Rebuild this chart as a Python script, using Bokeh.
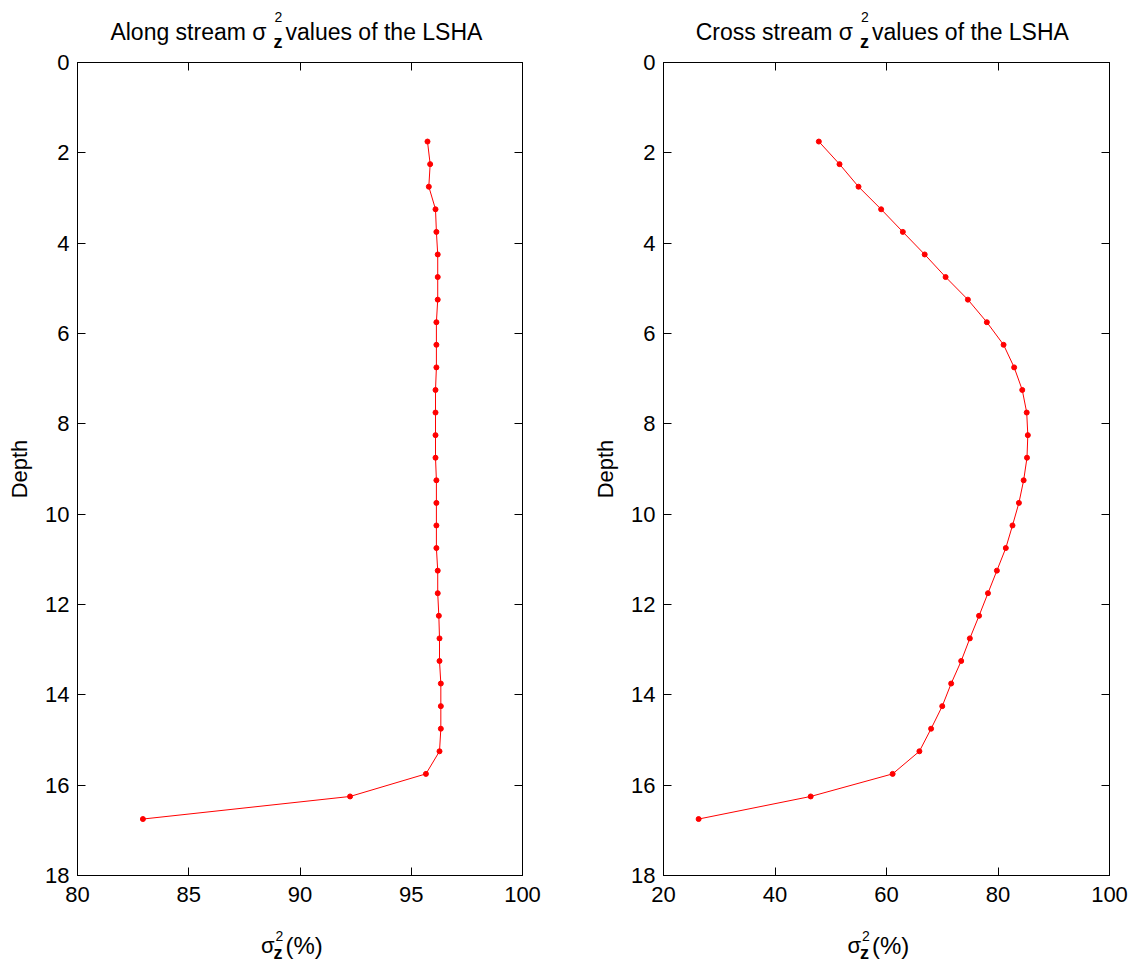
from bokeh.plotting import figure
from bokeh.layouts import row, column
from bokeh.models import Label, LinearAxis, FixedTicker, Range1d
from bokeh.embed import file_html
from bokeh.resources import INLINE

depth = [1.75, 2.25, 2.75, 3.25, 3.75, 4.25, 4.75, 5.25, 5.75, 6.25, 6.75,
         7.25, 7.75, 8.25, 8.75, 9.25, 9.75, 10.25, 10.75, 11.25, 11.75, 12.25,
         12.75, 13.25, 13.75, 14.25, 14.75, 15.25, 15.75, 16.25, 16.75]
along = [95.73, 95.85, 95.79, 96.09, 96.13, 96.19, 96.19, 96.19, 96.13, 96.13, 96.13,
         96.09, 96.09, 96.09, 96.09, 96.13, 96.13, 96.13, 96.13, 96.19, 96.19, 96.24,
         96.27, 96.27, 96.33, 96.33, 96.33, 96.27, 95.66, 92.25, 82.94]
cross = [47.86, 51.57, 54.98, 59.04, 62.93, 66.85, 70.6, 74.6, 78.0, 81.0, 82.9,
         84.35, 85.15, 85.35, 85.2, 84.6, 83.75, 82.6, 81.4, 79.8, 78.2, 76.6,
         74.95, 73.4, 71.6, 70.0, 68.0, 65.9, 61.1, 46.4, 26.3]

left_xticks = [80, 85, 90, 95, 100]
right_xticks = [20, 40, 60, 80, 100]
yticks = [0, 2, 4, 6, 8, 10, 12, 14, 16, 18]
titles = ["Along stream \u03c3", "Cross stream \u03c3"]
title_tail = "values of the LSHA"

FONT = "Liberation Sans"
FS = "22px"
TFS = "23px"
TITLE_H = 48
FRAME_TOP = 62
FRAME_H = 813
MAIN_BB = 40
XLAB_H = 44


def text_strip(width, height, top, frame_left, fw, pieces):
    # the strip's frame lines up with the main plot frame in the column,
    # so its x range is expressed in page pixels of that frame
    s = figure(width=width, height=height,
               x_range=Range1d(frame_left, frame_left + fw),
               y_range=Range1d(top + height, top), x_axis_location=None,
               y_axis_location=None, toolbar_location=None, title=None,
               output_backend="svg", min_border_left=0, min_border_right=0,
               min_border_top=0, min_border_bottom=0)
    s.grid.visible = False
    s.outline_line_color = None
    s.background_fill_color = None
    s.border_fill_color = None
    for txt, px, py, fs, st, al in pieces:
        s.add_layout(Label(x=px, y=py, text=txt, text_font=FONT,
                           text_font_size=fs, text_font_style=st,
                           text_align=al, text_baseline="alphabetic",
                           text_color="black"))
    return s


def make_column(xs, xticks, title_head, col_left, bl, fw, br, ylabel):
    x0, x1 = xticks[0], xticks[-1]
    width = bl + fw + br
    bt = FRAME_TOP - TITLE_H
    p = figure(width=width, height=bt + FRAME_H + MAIN_BB,
               x_range=Range1d(x0, x1), y_range=Range1d(18, 0),
               output_backend="svg", toolbar_location=None,
               min_border_left=bl, min_border_right=br,
               min_border_top=bt, min_border_bottom=MAIN_BB)
    p.grid.visible = False
    p.outline_line_color = "black"
    p.outline_line_width = 1
    p.border_fill_color = None

    for ax in (p.xaxis[0], p.yaxis[0]):
        ax.major_tick_in = 8
        ax.major_tick_out = 0
        ax.minor_tick_line_color = None
        ax.axis_line_color = "black"
        ax.major_tick_line_color = "black"
        ax.major_label_text_font = FONT
        ax.major_label_text_font_size = FS
        ax.major_label_text_color = "black"
    p.xaxis[0].major_label_standoff = 11
    p.yaxis[0].major_label_standoff = 8
    p.xaxis[0].ticker = FixedTicker(ticks=xticks)
    p.yaxis[0].ticker = FixedTicker(ticks=yticks)
    p.yaxis[0].axis_label = ylabel
    p.yaxis[0].axis_label_text_font = FONT
    p.yaxis[0].axis_label_text_font_size = FS
    p.yaxis[0].axis_label_text_font_style = "normal"
    p.yaxis[0].axis_label_text_color = "black"
    p.yaxis[0].axis_label_standoff = 10

    for loc, tk in (("right", yticks), ("above", xticks)):
        ax = LinearAxis(ticker=FixedTicker(ticks=tk),
                        major_label_overrides={t: "" for t in tk})
        ax.major_tick_in = 8
        ax.major_tick_out = 0
        ax.minor_tick_line_color = None
        ax.major_label_standoff = 0
        ax.major_label_text_font_size = "8px"
        ax.axis_line_color = "black"
        ax.major_tick_line_color = "black"
        p.add_layout(ax, loc)

    p.line(xs, depth, line_color="#ff0000", line_width=1)
    p.scatter(xs, depth, marker="circle", size=5, fill_color="#ff0000",
              line_color="#ff0000")

    frame_left = col_left + bl
    center = frame_left + fw / 2.0
    jt = center - 33.5
    jx = center - 25.5
    title_pieces = [
        (title_head, jt, 31, TFS, "normal", "right"),
        ("2", jt + 8, 16, "14px", "normal", "left"),
        ("z", jt + 7, 41, "18px", "bold", "left"),
        (title_tail, jt + 19, 31, TFS, "normal", "left"),
    ]
    xlab_top = FRAME_TOP + FRAME_H + MAIN_BB
    xlab_pieces = [
        ("\u03c3", jx, 945, FS, "normal", "right"),
        ("2", jx + 1, 935, "14px", "normal", "left"),
        ("z", jx - 1, 952, "18px", "bold", "left"),
        ("(%)", jx + 11, 945, "24px", "normal", "left"),
    ]
    t = text_strip(width, TITLE_H, 0, frame_left, fw, title_pieces)
    xl = text_strip(width, XLAB_H, xlab_top, frame_left, fw, xlab_pieces)
    return column(t, p, xl, spacing=0)


c1 = make_column(along, left_xticks, titles[0], 0, 77, 445, 40, "Depth")
c2 = make_column(cross, right_xticks, titles[1], 562, 101, 446, 20, "Depth")

layout = row(c1, c2, spacing=0)
open("out.html", "w").write(file_html(layout, INLINE))
